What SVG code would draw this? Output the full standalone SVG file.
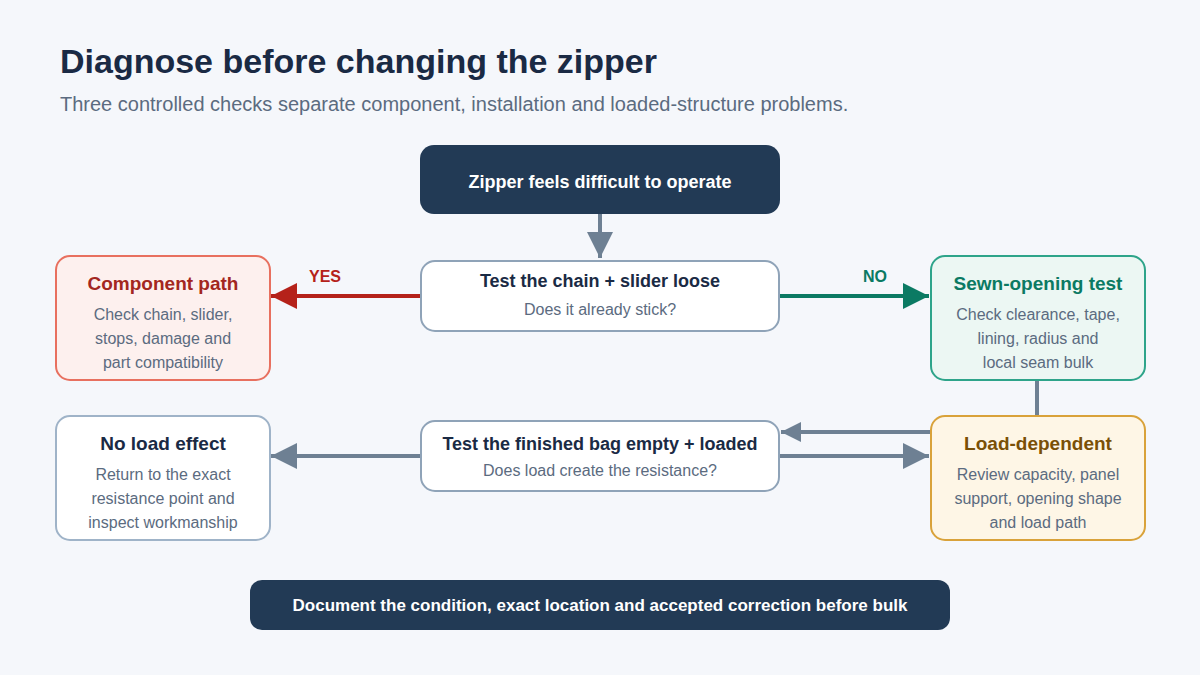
<svg xmlns="http://www.w3.org/2000/svg" width="1200" height="675" viewBox="0 0 1200 675">
<defs>
<style>
text{font-family:"Liberation Sans",Arial,sans-serif;text-anchor:middle}
.h{font-size:18px;font-weight:bold}
.hs{font-size:19px;font-weight:bold}
.b{font-size:16px;fill:#5b6b80}
.dark{fill:#223a55}
.lbl{font-size:16px;font-weight:bold}
</style>
<marker id="ag" viewBox="0 0 10 10" refX="10" refY="5" markerWidth="6.5" markerHeight="6.5" markerUnits="strokeWidth" orient="auto"><path d="M0,0L10,5L0,10z" fill="#6e8093"/></marker>
<marker id="ags" viewBox="0 0 10 10" refX="10" refY="5" markerWidth="5" markerHeight="5" markerUnits="strokeWidth" orient="auto"><path d="M0,0L10,5L0,10z" fill="#6e8093"/></marker>
<marker id="ar" viewBox="0 0 10 10" refX="10" refY="5" markerWidth="6.5" markerHeight="7" markerUnits="strokeWidth" orient="auto"><path d="M0,0L10,5L0,10z" fill="#b5221a"/></marker>
<marker id="an" viewBox="0 0 10 10" refX="10" refY="5" markerWidth="6.5" markerHeight="7" markerUnits="strokeWidth" orient="auto"><path d="M0,0L10,5L0,10z" fill="#0b7a63"/></marker>
</defs>
<rect width="1200" height="675" fill="#f5f7fb"/>
<text x="60" y="73" style="text-anchor:start;font-size:34px;font-weight:bold" fill="#1a2a44">Diagnose before changing the zipper</text>
<text x="60" y="111" style="text-anchor:start;font-size:20px" fill="#5b6b80">Three controlled checks separate component, installation and loaded-structure problems.</text>

<g id="connectors" fill="none" stroke-width="4">
<line x1="600" y1="214" x2="600" y2="258" stroke="#6e8093" marker-end="url(#ag)"/>
<line x1="420" y1="296" x2="271" y2="296" stroke="#b5221a" marker-end="url(#ar)"/>
<line x1="780" y1="296" x2="929" y2="296" stroke="#0b7a63" marker-end="url(#an)"/>
<line x1="1037" y1="380" x2="1037" y2="415" stroke="#6e8093"/>
<line x1="930" y1="432" x2="781" y2="432" stroke="#6e8093" marker-end="url(#ags)"/>
<line x1="780" y1="456" x2="929" y2="456" stroke="#6e8093" marker-end="url(#ag)"/>
<line x1="420" y1="456" x2="271" y2="456" stroke="#6e8093" marker-end="url(#ag)"/>
<text x="325" y="282" class="lbl" fill="#b5221a" stroke="none">YES</text>
<text x="875" y="282" class="lbl" fill="#0b7a63" stroke="none">NO</text>
</g>

<g id="start">
<rect x="420" y="145" width="360" height="69" rx="14" class="dark"/>
<text x="600" y="188" class="h" fill="#ffffff">Zipper feels difficult to operate</text>
</g>

<g id="test-chain">
<rect x="421" y="261" width="358" height="70" rx="14" fill="#ffffff" stroke="#8fa3b8" stroke-width="2"/>
<text x="600" y="287" class="h" fill="#1a2a44">Test the chain + slider loose</text>
<text x="600" y="315" class="b">Does it already stick?</text>
</g>

<g id="component-path">
<rect x="56" y="256" width="214" height="124" rx="14" fill="#fdf0ee" stroke="#e8705f" stroke-width="2"/>
<text x="163" y="290" class="hs" fill="#a32620">Component path</text>
<text x="163" y="320" class="b">Check chain, slider,</text>
<text x="163" y="344" class="b">stops, damage and</text>
<text x="163" y="368" class="b">part compatibility</text>
</g>

<g id="sewn-opening">
<rect x="931" y="256" width="214" height="124" rx="14" fill="#ecf7f3" stroke="#2ea48a" stroke-width="2"/>
<text x="1038" y="290" class="hs" fill="#0b7a63">Sewn-opening test</text>
<text x="1038" y="320" class="b">Check clearance, tape,</text>
<text x="1038" y="344" class="b">lining, radius and</text>
<text x="1038" y="368" class="b">local seam bulk</text>
</g>

<g id="test-bag">
<rect x="421" y="421" width="358" height="70" rx="14" fill="#ffffff" stroke="#8fa3b8" stroke-width="2"/>
<text x="600" y="450" class="h" fill="#1a2a44">Test the finished bag empty + loaded</text>
<text x="600" y="476" class="b">Does load create the resistance?</text>
</g>

<g id="no-load">
<rect x="56" y="416" width="214" height="124" rx="14" fill="#ffffff" stroke="#9fb3c8" stroke-width="2"/>
<text x="163" y="450" class="hs" fill="#1a2a44">No load effect</text>
<text x="163" y="480" class="b">Return to the exact</text>
<text x="163" y="504" class="b">resistance point and</text>
<text x="163" y="528" class="b">inspect workmanship</text>
</g>

<g id="load-dependent">
<rect x="931" y="416" width="214" height="124" rx="14" fill="#fef6e6" stroke="#d9a23a" stroke-width="2"/>
<text x="1038" y="450" class="hs" fill="#7a5006">Load-dependent</text>
<text x="1038" y="480" class="b">Review capacity, panel</text>
<text x="1038" y="504" class="b">support, opening shape</text>
<text x="1038" y="528" class="b">and load path</text>
</g>

<g id="document">
<rect x="250" y="580" width="700" height="50" rx="12" class="dark"/>
<text x="600" y="611" style="font-size:17px;font-weight:bold" fill="#ffffff">Document the condition, exact location and accepted correction before bulk</text>
</g>
</svg>
